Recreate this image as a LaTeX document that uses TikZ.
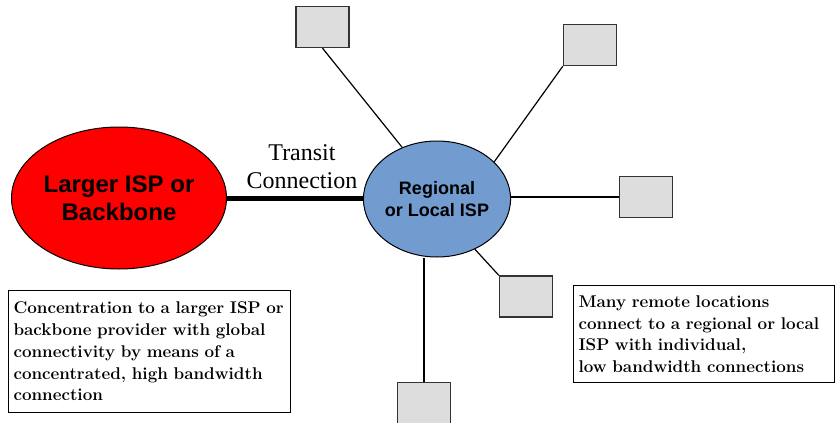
\documentclass[tikz,border=0pt]{standalone}
\usepackage{fontspec}
\setsansfont{Liberation Sans}
\newfontfamily\labelrm{Liberation Serif}
\usepackage{tikz}
\usetikzlibrary{shapes.geometric, positioning}
\definecolor{regblue}{RGB}{114,155,207}
\definecolor{sitegray}{RGB}{221,221,221}

\begin{document}
\begin{tikzpicture}
        [
            x=1pt, y=-1pt,
            isp/.style={ellipse, draw, line width=1pt, align=center, inner sep=0pt},
            site/.style={rectangle, draw=black!80, fill=sitegray, line width=1.3pt,
                minimum width=53pt, minimum height=41pt},
            note/.style={rectangle, draw, line width=1pt, align=left, anchor=north west,
                inner xsep=5pt, font=\bfseries\fontsize{17}{21.7}\selectfont},
            link/.style={line width=1.2pt},
        ]
        \useasboundingbox (0,0) rectangle (836,423);
        \node[isp, fill=red, minimum width=215pt, minimum height=142pt,
            font=\sffamily\bfseries\fontsize{24}{28}\selectfont] (big) at (119,198) {Larger ISP or\\Backbone};
        \node[isp, fill=regblue, minimum width=140pt, minimum height=116pt,
            font=\sffamily\bfseries\fontsize{18}{21.5}\selectfont] (reg) at (437,199) {Regional\\or Local ISP};
        \node[align=center, font=\labelrm\fontsize{24}{28}\selectfont] (trans) at (302,167) {Transit\\Connection};

        % remote locations
        \node[site] (pc1) at (322.5,27) {};
        \node[site] (pc2) at (590,45) {};
        \node[site] (pc3) at (646,197) {};
        \node[site] (pc4) at (526,296.5) {};
        \node[site] (pc5) at (424,403) {};

        \draw[line width=5pt] (big.east) -- (big.east -| reg.west);
        \draw[link] (pc1.south) -- (reg.124);
        \draw[link] (pc2.south west) -- (reg.33);
        \draw[link] (reg.east |- pc3.west) -- (pc3.west);
        \draw[link] (reg.-53) -- (pc4.north west);
        \draw[link] (pc5.north) -- (pc5.north |- reg.south);

        % notes
        \node[note, text width=272pt, minimum height=122pt] (left) at (8,290)
            {Concentration to a larger ISP or\\backbone provider with global\\connectivity by means of a\\concentrated, high bandwidth\\connection};
        \node[note, text width=251pt, minimum height=97pt] (right) at (573,285)
            {Many remote locations\\connect to a regional or local\\ISP with individual,\\low bandwidth connections};
\end{tikzpicture}
\end{document}
